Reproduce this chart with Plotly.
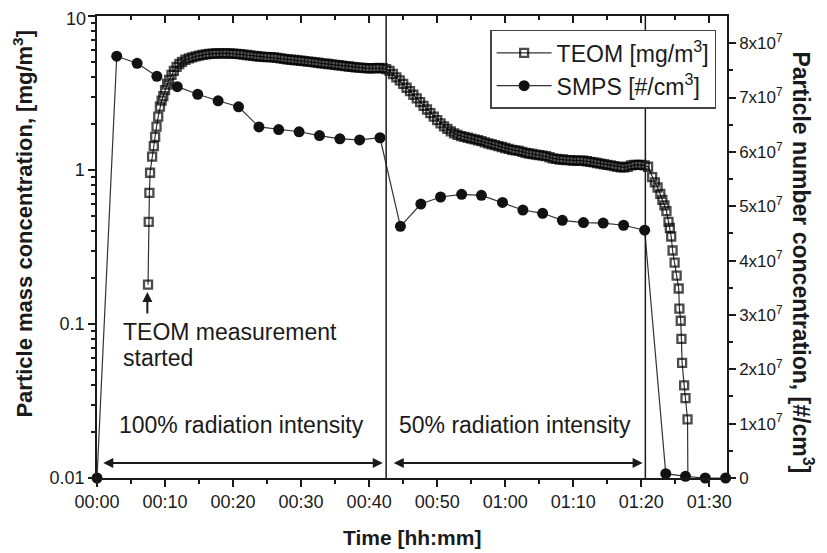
import plotly.graph_objects as go

# ---------------- data ----------------
teom_t = [7.5, 7.6, 7.7, 7.8, 8.1, 8.35, 8.55, 8.75, 9.0, 9.25, 9.5, 9.75, 10.0, 10.3, 10.6,
          10.95, 11.3, 11.7, 12.1, 12.5, 13.0, 13.5, 14.0, 14.5, 15.0, 15.5, 16.0, 16.5, 17.0,
          17.5, 18.0, 18.5, 19.0, 19.5, 20.0, 20.5, 21.0, 21.5, 22.0, 22.5, 23.0, 23.5, 24.0,
          24.5, 25.0, 25.5, 26.0, 26.5, 27.0, 27.5, 28.0, 28.5, 29.0, 29.5, 30.0, 30.5, 31.0,
          31.5, 32.0, 32.5, 33.0, 33.5, 34.0, 34.5, 35.0, 35.5, 36.0, 36.5, 37.0, 37.5, 38.0,
          38.5, 39.0, 39.5, 40.0, 40.5, 41.0, 41.5, 42.0, 42.5, 43.0, 43.5, 44.0, 44.5, 45.0,
          45.5, 46.0, 46.5, 47.0, 47.5, 48.0, 48.5, 49.0, 49.5, 50.0, 50.5, 51.0, 51.5, 52.0,
          52.5, 53.0, 53.5, 54.0, 54.5, 55.0, 55.5, 56.0, 56.5, 57.0, 57.5, 58.0, 58.5, 59.0,
          59.5, 60.0, 60.5, 61.0, 61.5, 62.0, 62.5, 63.0, 63.5, 64.0, 64.5, 65.0, 65.5, 66.0,
          66.5, 67.0, 67.5, 68.0, 68.5, 69.0, 69.5, 70.0, 70.5, 71.0, 71.5, 72.0, 72.5, 73.0,
          73.5, 74.0, 74.5, 75.0, 75.5, 76.0, 76.5, 77.0, 77.5, 78.0, 78.5, 79.0, 79.5, 80.0,
          80.5, 81.0, 81.6, 82.0, 82.4, 82.8, 83.1, 83.4, 83.7, 84.0, 84.2, 84.4, 84.6, 84.9,
          85.2, 85.5, 85.6, 85.8, 85.9, 86.0, 86.3, 86.5, 86.8, 86.85]
teom_v = [0.18, 0.46, 0.71, 0.96, 1.22, 1.43, 1.64, 1.91, 2.22, 2.58, 2.82, 3.02, 3.3, 3.58, 3.85,
          4.15, 4.4, 4.68, 4.88, 5.03, 5.2, 5.3, 5.38, 5.46, 5.53, 5.59, 5.63, 5.67, 5.69,
          5.71, 5.72, 5.72, 5.72, 5.71, 5.70, 5.68, 5.65, 5.62, 5.58, 5.55, 5.51, 5.48, 5.45,
          5.43, 5.41, 5.40, 5.38, 5.35, 5.31, 5.27, 5.23, 5.20, 5.18, 5.15, 5.12, 5.09, 5.06,
          5.03, 5.00, 4.97, 4.93, 4.90, 4.88, 4.85, 4.82, 4.79, 4.76, 4.73, 4.70, 4.67, 4.64,
          4.62, 4.60, 4.59, 4.58, 4.58, 4.59, 4.60, 4.58, 4.52, 4.40, 4.20, 4.00, 3.82, 3.62,
          3.42, 3.25, 3.08, 2.92, 2.76, 2.61, 2.47, 2.34, 2.22, 2.11, 2.01, 1.92, 1.85, 1.78,
          1.73, 1.69, 1.66, 1.64, 1.62, 1.60, 1.58, 1.56, 1.54, 1.51, 1.49, 1.47, 1.45, 1.43,
          1.41, 1.39, 1.37, 1.35, 1.34, 1.33, 1.31, 1.29, 1.28, 1.27, 1.26, 1.25, 1.24, 1.23,
          1.21, 1.19, 1.18, 1.17, 1.17, 1.16, 1.16, 1.15, 1.15, 1.15, 1.15, 1.14, 1.13, 1.12,
          1.11, 1.10, 1.09, 1.08, 1.07, 1.06, 1.05, 1.04, 1.04, 1.05, 1.07, 1.08, 1.08, 1.08,
          1.07, 1.05, 0.90, 0.83, 0.77, 0.70, 0.64, 0.59, 0.54, 0.46, 0.42, 0.37, 0.30, 0.25,
          0.206, 0.17, 0.126, 0.105, 0.080, 0.056, 0.040, 0.033, 0.024, 0.01]

smps_t = [0, 2.9, 5.9, 8.8, 11.8, 14.8, 17.8, 20.8, 23.8, 26.7, 29.7, 32.7, 35.7, 38.6, 41.6,
          44.6, 47.6, 50.5, 53.6, 56.5, 59.6, 62.6, 65.5, 68.4, 71.5, 74.4, 77.4, 80.5,
          83.6, 86.5, 89.4, 92.4]
smps_v = [0, 7.76e7, 7.63e7, 7.39e7, 7.20e7, 7.06e7, 6.94e7, 6.83e7, 6.46e7, 6.41e7, 6.37e7,
          6.30e7, 6.24e7, 6.22e7, 6.26e7, 4.63e7, 5.04e7, 5.17e7, 5.22e7, 5.20e7, 5.07e7,
          4.93e7, 4.87e7, 4.74e7, 4.70e7, 4.69e7, 4.65e7, 4.56e7, 0.08e7, 0.03e7, 0, 0]

x_tickvals = [0, 10, 20, 30, 40, 50, 60, 70, 80, 90]
x_ticktext = ["00:00", "00:10", "00:20", "00:30", "00:40", "00:50", "01:00", "01:10", "01:20", "01:30"]
y_tickvals = [0.01, 0.1, 1, 10]
y_ticktext = ["0.01", "0.1", "1", "10"]
y2_tickvals = [0, 1e7, 2e7, 3e7, 4e7, 5e7, 6e7, 7e7, 8e7]
y2_ticktext = ["0"] + ["%dx10<sup>7</sup>" % k for k in range(1, 9)]

phase_lines = [42.5, 80.6]

FONT = "Liberation Sans, Arial, sans-serif"
INK = "#1a1a1a"

fig = go.Figure()

teom_sizes = [8] * (len(teom_t) - 1) + [0]
fig.add_trace(go.Scatter(
    x=teom_t, y=teom_v, mode="lines+markers", name="TEOM [mg/m<sup>3</sup>]",
    line=dict(color="#333333", width=1.2),
    marker=dict(symbol="square-open", size=teom_sizes, color="#000000",
                line=dict(width=2.3, color="#000000")),
    yaxis="y", cliponaxis=False,
))
fig.add_trace(go.Scatter(
    x=smps_t, y=smps_v, mode="lines+markers", name="SMPS [#/cm<sup>3</sup>]",
    line=dict(color="#333333", width=1.2),
    marker=dict(symbol="circle", size=11, color="#111111"),
    yaxis="y2", cliponaxis=False,
))
fig.add_trace(go.Scatter(x=[None], y=[None], xaxis="x2", yaxis="y", showlegend=False,
                         hoverinfo="skip"))

minor_log = [k * 10 ** e for e in (-2, -1, 0) for k in range(2, 10)]
minor_x = [5, 15, 25, 35, 45, 55, 65, 75, 85]

fig.update_layout(
    width=827, height=553,
    margin=dict(l=89, r=108, t=8, b=83, autoexpand=False),
    paper_bgcolor="white", plot_bgcolor="white",
    font=dict(family=FONT, size=19, color=INK),
    showlegend=True,
    legend=dict(x=0.624, y=0.97, xanchor="left", yanchor="top",
                bgcolor="white", bordercolor="#444444", borderwidth=1.5,
                font=dict(size=23, color=INK), tracegroupgap=0, itemwidth=55),
    xaxis=dict(range=[0, 92.6], tickvals=x_tickvals, ticktext=x_ticktext, automargin=False,
               showline=True, linecolor=INK, linewidth=1.5, ticks="outside",
               ticklen=7, tickwidth=1.5, tickcolor=INK, showgrid=False, zeroline=False,
               minor=dict(tickvals=minor_x, ticks="outside",
                          ticklen=4, tickwidth=1.5, tickcolor=INK),
               tickfont=dict(size=18)),
    xaxis2=dict(range=[0, 92.6], overlaying="x", side="top", anchor="y", automargin=False,
                tickvals=x_tickvals, showticklabels=False,
                showline=True, linecolor=INK, linewidth=1.5, ticks="inside",
                ticklen=7, tickwidth=1.5, tickcolor=INK, showgrid=False, zeroline=False,
                minor=dict(tickvals=minor_x, ticks="inside",
                           ticklen=4, tickwidth=1.5, tickcolor=INK)),
    yaxis=dict(type="log", range=[-2, 1], tickvals=y_tickvals, ticktext=y_ticktext,
               automargin=False,
               showline=True, linecolor=INK, linewidth=1.5, ticks="outside",
               ticklen=7, tickwidth=1.5, tickcolor=INK, showgrid=False, zeroline=False,
               minor=dict(tickvals=minor_log, ticks="outside", ticklen=4, tickwidth=1.5,
                          tickcolor=INK),
               tickfont=dict(size=18)),
    yaxis2=dict(range=[0, 8.5e7], overlaying="y", side="right", anchor="x", automargin=False,
                tickvals=y2_tickvals, ticktext=y2_ticktext,
                showline=True, linecolor=INK, linewidth=1.5, ticks="outside",
                ticklen=7, tickwidth=1.5, tickcolor=INK, showgrid=False, zeroline=False,
                minor=dict(tickvals=[0.5e7 + k * 1e7 for k in range(8)], ticks="outside",
                           ticklen=4, tickwidth=1.5, tickcolor=INK),
                tickfont=dict(size=17)),
)

for xv in phase_lines:
    fig.add_shape(type="line", x0=xv, x1=xv, xref="x", y0=0, y1=1, yref="paper",
                  line=dict(color=INK, width=1.5))

# top "10" label (plotly hides the tick label that touches the page edge)
fig.add_annotation(text=y_ticktext[-1], xref="paper", yref="paper", x=-0.016, y=0.993,
                   xanchor="right", yanchor="middle", showarrow=False, borderpad=0,
                   font=dict(size=18, color=INK))

# axis titles
fig.add_annotation(text="<b>Time [hh:mm]</b>", xref="paper", yref="paper", x=0.5, y=-0.128,
                   showarrow=False, font=dict(size=21, color=INK), yanchor="middle")
fig.add_annotation(text="<b>Particle mass concentration, [mg/m<sup>3</sup>]</b>",
                   xref="paper", yref="paper", x=-0.118, y=0.55, showarrow=False,
                   textangle=-90, font=dict(size=22, color=INK), xanchor="center", yanchor="middle")
fig.add_annotation(text="<b>Particle number concentration, [#/cm<sup>3</sup>]</b>",
                   xref="paper", yref="paper", x=1.121, y=0.466, showarrow=False,
                   textangle=90, font=dict(size=23, color=INK), xanchor="center", yanchor="middle")

# phase labels and double arrows
fig.add_annotation(text="100% radiation intensity", x=21.3, y=0.082, xref="x", yref="paper",
                   showarrow=False, font=dict(size=23, color=INK))
fig.add_annotation(text="50% radiation intensity", x=61.5, y=0.082, xref="x", yref="paper",
                   showarrow=False, font=dict(size=23, color=INK))
for (a, b) in [(0.7, 42.0), (43.4, 80.2)]:
    fig.add_annotation(x=b, y=0.276e7, xref="x", yref="y2", ax=a, ay=0.276e7, axref="x", ayref="y2",
                       text="", showarrow=True, arrowhead=2, arrowside="end+start",
                       arrowsize=1, arrowwidth=2, arrowcolor=INK)

# TEOM start annotation
fig.add_annotation(x=7.4, y=3.42e7, xref="x", yref="y2", ax=7.4, ay=3.0e7, axref="x", ayref="y2",
                   text="", showarrow=True, arrowhead=2, arrowsize=1, arrowwidth=2, arrowcolor=INK)
fig.add_annotation(text="TEOM measurement", x=3.5, y=2.686e7, xref="x", yref="y2",
                   xanchor="left", yanchor="middle", showarrow=False, font=dict(size=23, color=INK))
fig.add_annotation(text="started", x=3.5, y=2.208e7, xref="x", yref="y2",
                   xanchor="left", yanchor="middle", showarrow=False, font=dict(size=23, color=INK))

fig.write_html("out.html")
